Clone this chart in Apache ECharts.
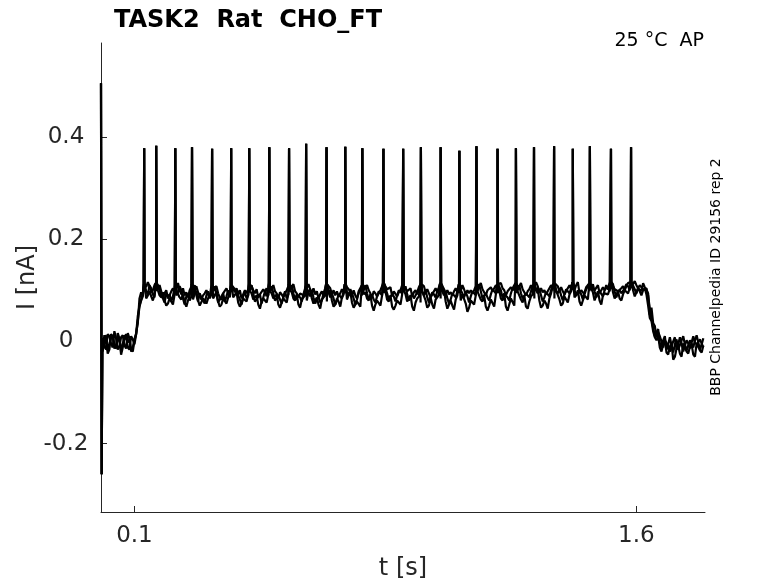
<!DOCTYPE html>
<html><head><meta charset="utf-8">
<script src="https://cdn.jsdelivr.net/npm/echarts@6/dist/echarts.min.js"></script>
<style>html,body{margin:0;padding:0;background:#fff}#c{width:778px;height:583px}</style>
</head><body><div id="c"></div>
<script>
// main samples at t = 0.01 .. 1.80 s (step 0.01); mid samples at t = 0.005 .. 1.795 s
const gridStart = 0.01, midStart = 0.005, gridStep = 0.01;
const traceA = [
 0.012,-0.018,0.006,-0.014,0.016,-0.020,0.004,-0.012,0.010,-0.006,
 0.050,0.082,0.112,0.092,0.104,0.086,0.110,0.090,0.076,0.088,
 0.078,0.106,0.096,0.100,0.072,0.092,0.088,0.110,0.078,0.086,
 0.074,0.098,0.092,0.108,0.076,0.088,0.078,0.100,0.096,0.102,
 0.090,0.072,0.098,0.090,0.110,0.078,0.088,0.074,0.098,0.090,
 0.108,0.080,0.090,0.074,0.098,0.092,0.110,0.080,0.088,0.078,
 0.104,0.096,0.100,0.074,0.088,0.080,0.104,0.096,0.094,0.072,
 0.092,0.084,0.108,0.090,0.094,0.072,0.098,0.090,0.110,0.082,
 0.090,0.076,0.098,0.090,0.112,0.082,0.092,0.078,0.100,0.094,
 0.108,0.080,0.092,0.082,0.106,0.098,0.100,0.076,0.096,0.086,
 0.106,0.098,0.098,0.074,0.094,0.086,0.108,0.094,0.096,0.076,
 0.098,0.090,0.112,0.084,0.094,0.080,0.102,0.094,0.112,0.086,
 0.094,0.080,0.104,0.096,0.110,0.084,0.094,0.086,0.108,0.100,
 0.102,0.078,0.096,0.088,0.110,0.098,0.102,0.080,0.102,0.094,
 0.112,0.092,0.098,0.082,0.106,0.098,0.112,0.086,0.098,0.088,
 0.110,0.098,0.112,0.086,0.100,0.092,0.112,0.100,0.114,0.094,
 0.110,0.100,0.104,0.064,0.026,0.018,-0.004,0.002,-0.016,0.008,
 -0.022,0.004,-0.014,0.010,-0.018,0.002,-0.012,0.012,-0.016,0.006
];
const traceAMid = [
 -0.020,0.010,-0.004,0.012,-0.008,0.006,-0.004,0.014,-0.016,0.004,
 0.014,0.070,0.094,0.098,0.110,0.092,0.102,0.100,0.084,0.094,
 0.092,0.088,0.090,0.108,0.084,0.088,0.080,0.100,0.090,0.094,
 0.080,0.090,0.084,0.098,0.092,0.082,0.094,0.088,0.086,0.108,
 0.098,0.082,0.088,0.084,0.100,0.094,0.082,0.092,0.086,0.104,
 0.100,0.094,0.084,0.082,0.088,0.084,0.102,0.094,0.090,0.086,
 0.092,0.102,0.088,0.086,0.082,0.076,0.094,0.100,0.086,0.084,
 0.080,0.090,0.098,0.096,0.102,0.084,0.082,0.096,0.102,0.094,
 0.086,0.082,0.088,0.096,0.104,0.094,0.084,0.088,0.090,0.100,
 0.102,0.092,0.088,0.084,0.096,0.100,0.090,0.086,0.088,0.092,
 0.098,0.102,0.090,0.084,0.082,0.092,0.098,0.100,0.086,0.088,
 0.088,0.096,0.102,0.098,0.090,0.086,0.092,0.104,0.100,0.100,
 0.092,0.086,0.094,0.102,0.104,0.094,0.086,0.092,0.098,0.106,
 0.094,0.090,0.086,0.094,0.100,0.106,0.094,0.090,0.092,0.100,
 0.104,0.100,0.090,0.092,0.096,0.104,0.102,0.098,0.094,0.096,
 0.100,0.104,0.102,0.098,0.096,0.094,0.104,0.108,0.104,0.102,
 0.104,0.106,0.100,0.090,0.044,0.010,0.024,-0.012,0.010,-0.006,
 -0.008,-0.006,-0.016,0.002,-0.006,-0.008,-0.004,0.002,-0.002,-0.006
];
const traceB = [
 -0.010,0.014,-0.004,0.020,-0.016,0.008,-0.008,0.016,-0.020,0.004,
 0.036,0.096,0.104,0.116,0.096,0.110,0.104,0.098,0.094,0.084,
 0.098,0.094,0.114,0.092,0.090,0.086,0.106,0.100,0.096,0.082,
 0.094,0.092,0.110,0.100,0.094,0.082,0.096,0.094,0.114,0.096,
 0.092,0.084,0.100,0.102,0.108,0.094,0.086,0.094,0.096,0.106,
 0.104,0.098,0.084,0.092,0.094,0.108,0.106,0.098,0.086,0.096,
 0.100,0.112,0.094,0.092,0.084,0.098,0.100,0.112,0.092,0.090,
 0.088,0.102,0.104,0.108,0.090,0.090,0.094,0.108,0.106,0.100,
 0.086,0.094,0.094,0.108,0.108,0.100,0.088,0.096,0.096,0.110,
 0.104,0.098,0.088,0.100,0.102,0.114,0.096,0.094,0.092,0.104,
 0.104,0.114,0.094,0.092,0.090,0.104,0.104,0.110,0.092,0.094,
 0.094,0.108,0.108,0.102,0.090,0.098,0.098,0.110,0.110,0.104,
 0.090,0.098,0.100,0.112,0.108,0.102,0.090,0.102,0.104,0.116,
 0.098,0.096,0.092,0.104,0.106,0.116,0.098,0.098,0.098,0.110,
 0.110,0.110,0.094,0.100,0.102,0.114,0.108,0.102,0.094,0.106,
 0.106,0.116,0.108,0.104,0.096,0.108,0.108,0.116,0.112,0.110,
 0.106,0.114,0.100,0.052,0.036,0.008,0.010,-0.012,0.004,-0.020,
 0.000,-0.016,0.008,-0.020,0.002,-0.014,0.010,-0.006,0.004,-0.012
];
const traceBMid = [
 0.006,-0.016,0.010,-0.012,0.006,-0.010,0.012,-0.014,0.006,-0.012,
 0.016,0.084,0.090,0.106,0.108,0.100,0.098,0.110,0.086,0.100,
 0.090,0.104,0.100,0.100,0.104,0.096,0.100,0.092,0.108,0.090,
 0.090,0.100,0.086,0.102,0.108,0.086,0.094,0.104,0.088,0.104,
 0.104,0.100,0.092,0.094,0.110,0.100,0.102,0.092,0.102,0.088,
 0.096,0.110,0.094,0.096,0.086,0.100,0.098,0.112,0.094,0.094,
 0.090,0.104,0.102,0.104,0.098,0.092,0.090,0.104,0.104,0.100,
 0.098,0.094,0.096,0.106,0.098,0.100,0.084,0.100,0.100,0.110,
 0.094,0.098,0.088,0.100,0.098,0.102,0.106,0.098,0.088,0.100,
 0.100,0.098,0.104,0.096,0.092,0.106,0.108,0.102,0.086,0.098,
 0.096,0.098,0.102,0.100,0.096,0.098,0.096,0.098,0.102,0.100,
 0.100,0.100,0.098,0.114,0.096,0.100,0.106,0.104,0.102,0.114,
 0.100,0.098,0.106,0.104,0.100,0.114,0.096,0.098,0.110,0.100,
 0.108,0.104,0.100,0.098,0.110,0.098,0.108,0.106,0.092,0.104,
 0.102,0.100,0.116,0.100,0.092,0.108,0.106,0.100,0.110,0.100,
 0.100,0.102,0.112,0.102,0.098,0.104,0.100,0.114,0.104,0.118,
 0.104,0.098,0.106,0.094,0.066,0.030,0.018,0.000,0.002,-0.008,
 -0.010,0.008,-0.006,-0.004,-0.008,-0.004,-0.002,-0.002,-0.004,0.006
];
const traceC = [
 0.004,-0.024,0.014,-0.006,0.002,-0.026,0.012,-0.002,-0.016,0.002,
 0.040,0.080,0.098,0.090,0.088,0.092,0.100,0.086,0.080,0.074,
 0.084,0.092,0.098,0.082,0.076,0.080,0.092,0.094,0.080,0.072,
 0.080,0.084,0.096,0.090,0.078,0.072,0.082,0.086,0.098,0.088,
 0.076,0.074,0.086,0.092,0.094,0.080,0.072,0.078,0.084,0.092,
 0.094,0.082,0.072,0.076,0.084,0.094,0.096,0.080,0.072,0.082,
 0.090,0.098,0.084,0.074,0.072,0.082,0.090,0.096,0.080,0.072,
 0.078,0.086,0.094,0.090,0.076,0.068,0.080,0.090,0.096,0.080,
 0.070,0.072,0.080,0.090,0.098,0.078,0.068,0.070,0.080,0.092,
 0.092,0.076,0.068,0.076,0.088,0.098,0.080,0.070,0.072,0.082,
 0.092,0.098,0.078,0.066,0.070,0.082,0.094,0.092,0.074,0.066,
 0.076,0.090,0.098,0.078,0.068,0.070,0.080,0.092,0.100,0.080,
 0.068,0.072,0.084,0.094,0.096,0.076,0.068,0.078,0.092,0.100,
 0.080,0.070,0.074,0.084,0.096,0.100,0.082,0.074,0.082,0.092,
 0.100,0.090,0.078,0.080,0.092,0.100,0.096,0.082,0.080,0.090,
 0.096,0.102,0.096,0.084,0.084,0.092,0.100,0.104,0.100,0.090,
 0.098,0.100,0.092,0.046,0.020,0.002,-0.012,-0.006,-0.022,-0.010,
 -0.036,-0.014,-0.024,-0.004,-0.020,-0.010,-0.026,-0.004,-0.018,-0.008
];
const traceCMid = [
 -0.018,0.012,-0.016,0.010,-0.014,0.008,-0.012,0.006,0.004,-0.020,
 0.014,0.068,0.088,0.084,0.098,0.080,0.102,0.090,0.096,0.070,
 0.084,0.072,0.100,0.086,0.092,0.068,0.090,0.082,0.098,0.070,
 0.084,0.074,0.092,0.084,0.098,0.068,0.084,0.074,0.094,0.086,
 0.096,0.068,0.084,0.078,0.098,0.082,0.090,0.064,0.084,0.076,
 0.098,0.084,0.092,0.066,0.084,0.076,0.100,0.084,0.092,0.066,
 0.084,0.080,0.102,0.074,0.086,0.064,0.084,0.078,0.100,0.068,
 0.084,0.068,0.092,0.082,0.098,0.066,0.078,0.068,0.092,0.084,
 0.092,0.060,0.080,0.070,0.094,0.082,0.090,0.062,0.080,0.072,
 0.100,0.078,0.090,0.060,0.084,0.076,0.100,0.066,0.086,0.064,
 0.086,0.084,0.102,0.064,0.080,0.062,0.090,0.080,0.094,0.058,
 0.080,0.072,0.098,0.082,0.090,0.060,0.082,0.068,0.094,0.084,
 0.094,0.060,0.084,0.070,0.098,0.082,0.090,0.064,0.088,0.084,
 0.104,0.066,0.080,0.064,0.094,0.084,0.100,0.070,0.088,0.076,
 0.098,0.086,0.100,0.070,0.090,0.082,0.104,0.080,0.098,0.072,
 0.094,0.092,0.106,0.084,0.098,0.080,0.100,0.094,0.108,0.088,
 0.104,0.090,0.104,0.070,0.040,0.008,0.012,-0.020,0.004,-0.026,
 -0.004,-0.030,-0.008,-0.030,-0.002,-0.024,-0.006,-0.030,-0.002,-0.022
];
const spikeTimes = [0.129,0.165,0.222,0.272,0.332,0.389,0.443,0.503,0.562,0.613,0.674,0.730,0.781,0.844,
 0.903,0.956,1.015,1.071,1.122,1.185,1.240,1.294,1.354,1.410,1.461,1.524,1.584];
const spikePeaks = [0.378,0.383,0.378,0.380,0.377,0.378,0.378,0.380,0.378,0.387,0.380,0.381,0.378,0.377,
 0.377,0.380,0.380,0.373,0.382,0.377,0.378,0.380,0.382,0.377,0.382,0.377,0.380];
const spikeFoot = [0.112,0.114,0.110,0.112,0.112,0.110,0.112,0.114,0.112,0.110,0.112,0.112,0.110,0.114,
 0.112,0.112,0.114,0.112,0.110,0.112,0.114,0.112,0.114,0.116,0.114,0.116,0.116];
const transientT = [0, 0.002, 0.004];
const transientI = [0.505, -0.26, -0.01];
const xTicks = [0.1, 1.6];
const yTicks = [-0.2, 0, 0.2, 0.4];

function build(trace, mid){
  const pts = [];
  transientT.forEach((t,i)=>pts.push([t, transientI[i]]));
  trace.forEach((v,i)=>pts.push([+(gridStart+i*gridStep).toFixed(3), v]));
  mid.forEach((v,i)=>pts.push([+(midStart+i*gridStep).toFixed(3), v]));
  spikeTimes.forEach((t,i)=>{
    pts.push([t-0.0014, spikeFoot[i]]);
    pts.push([t, spikePeaks[i]]);
    pts.push([t+0.0014, spikeFoot[i]]);
  });
  pts.sort((a,b)=>a[0]-b[0]);
  return pts;
}
const axisColor = '#262626';
const chart = echarts.init(document.getElementById('c'));
const mk = (tr, mid)=>({type:'line', data:build(tr, mid), showSymbol:false, symbol:'none', sampling:null,
  lineStyle:{color:'#000', width:2.2}, animation:false, silent:true});
chart.setOption({
  animation:false,
  backgroundColor:'#fff',
  grid:{left:101, right:73, top:43, bottom:71, containLabel:false, outerBoundsMode:'none'},
  title:{text:'TASK2  Rat  CHO_FT', left:109, top:4,
    textStyle:{fontFamily:'DejaVu Sans', fontSize:24, fontWeight:'bold', color:'#000'}},
  xAxis:{type:'value', min:0, max:1.805, name:'t [s]', nameLocation:'middle', nameGap:45, nameMoveOverlap:false,
    nameTextStyle:{fontFamily:'DejaVu Sans', fontSize:24, color:axisColor},
    axisLine:{onZero:false, lineStyle:{color:axisColor, width:1}},
    axisTick:{inside:true, length:6, customValues:xTicks, lineStyle:{color:axisColor}},
    axisLabel:{customValues:xTicks, margin:13, fontFamily:'DejaVu Sans', fontSize:23, color:axisColor},
    splitLine:{show:false}},
  yAxis:{type:'value', min:-0.334, max:0.584, name:'I [nA]', nameLocation:'middle', nameGap:61, nameMoveOverlap:false,
    nameTextStyle:{fontFamily:'DejaVu Sans', fontSize:24, color:axisColor},
    axisLine:{show:true, onZero:false, lineStyle:{color:axisColor, width:1}},
    axisTick:{show:true, inside:true, length:6, customValues:yTicks, lineStyle:{color:axisColor}},
    axisLabel:{customValues:yTicks, margin:35, align:'center', fontFamily:'DejaVu Sans', fontSize:23, color:axisColor},
    splitLine:{show:false}},
  graphic:[
    {type:'text', right:74, top:32, style:{text:'25 °C  AP', fontFamily:'DejaVu Sans', fontSize:19, fill:'#000'}},
    {type:'text', x:716, y:277, rotation:Math.PI/2,
      style:{text:'BBP Channelpedia ID 29156 rep 2', fontFamily:'DejaVu Sans', fontSize:14, fill:'#000',
        align:'center', verticalAlign:'middle'}}
  ],
  series:[mk(traceA, traceAMid), mk(traceB, traceBMid), mk(traceC, traceCMid)]
});
</script></body></html>
